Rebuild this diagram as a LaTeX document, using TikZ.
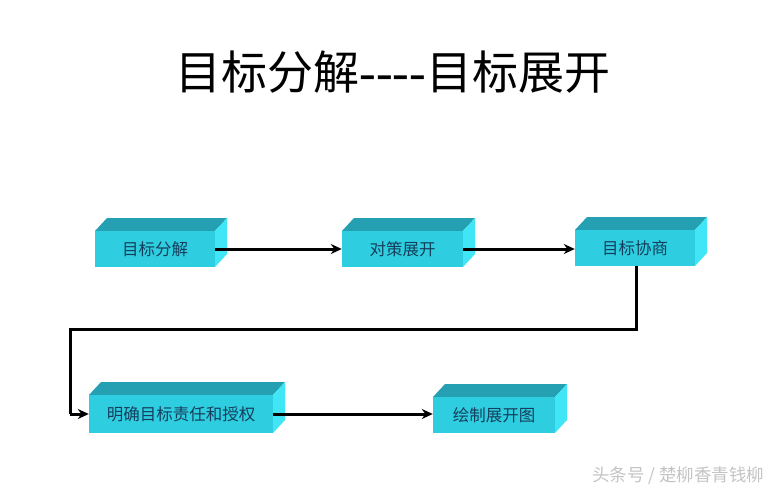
\documentclass[tikz,border=0pt]{standalone}
\usepackage{fontspec}
\usetikzlibrary{arrows.meta}
\newfontfamily\cjk{Noto Sans CJK SC}
\definecolor{frontc}{RGB}{46,206,224}
\definecolor{topc}{RGB}{36,160,178}
\definecolor{sidec}{RGB}{64,230,246}
\definecolor{txtc}{RGB}{22,62,92}
\definecolor{wmc}{RGB}{196,196,196}
\tikzset{
  boxtxt/.style={font=\cjk\fontsize{16.5}{16.5}\selectfont, text=txtc},
  conn/.style={line width=3pt, draw=black, -{Stealth[length=11pt,width=10pt]}},
  connp/.style={line width=3pt, draw=black},
}
\newcommand{\cuboid}[6]{% name, x1, y1, x2, y2, text
  \fill[topc] (#2,#3) -- (#2+12,#3-13) -- (#4+12,#3-13) -- (#4,#3) -- cycle;
  \fill[sidec] (#4,#3) -- (#4+12,#3-13) -- (#4+12,#5-13) -- (#4,#5) -- cycle;
  \fill[frontc] (#2,#3) rectangle (#4,#5);
  \node[boxtxt, minimum width=#4pt-#2pt, minimum height=#5pt-#3pt, inner sep=0pt] (#1) at ({(#2+#4)/2},{(#3+#5)/2}) {#6};
}
\begin{document}
\begin{tikzpicture}[x=1pt,y=-1pt]
\useasboundingbox (0,0) rectangle (780,493);
\fill[white] (0,0) rectangle (780,493);
\node (title) at (393,72) {\cjk\fontsize{46}{46}\selectfont 目标分解{\fontspec{Liberation Serif}\fontsize{50}{50}\selectfont----}目标展开};
\cuboid{a}{95}{231}{215}{267}{目标分解}
\cuboid{b}{342}{231}{463}{267}{对策展开}
\cuboid{c}{575}{230}{695}{266}{目标协商}
\cuboid{d}{89}{395}{273}{433}{明确目标责任和授权}
\cuboid{e}{433}{397}{555}{433}{绘制展开图}
\coordinate (r1) at (0,249);
\coordinate (r2) at (0,414);
\draw[conn] (a.east |- r1) -- (b.west |- r1);
\draw[conn] (b.east |- r1) -- (c.west |- r1);
\coordinate (c1) at (636,329);
\coordinate (c2) at (70,329);
\coordinate (c3) at (70,414);
\draw[connp] (c.south -| c1) -- (c1) -- (c2) -- (c3);
\draw[conn] (c3) -- (d.west |- c3);
\draw[conn] (d.east |- r2) -- (e.west |- r2);
\node[text=wmc, font=\cjk\fontsize{17.5}{17.5}\selectfont, anchor=east] (wm) at (768,476) {头条号 / 楚柳香青钱柳};
\end{tikzpicture}
\end{document}
